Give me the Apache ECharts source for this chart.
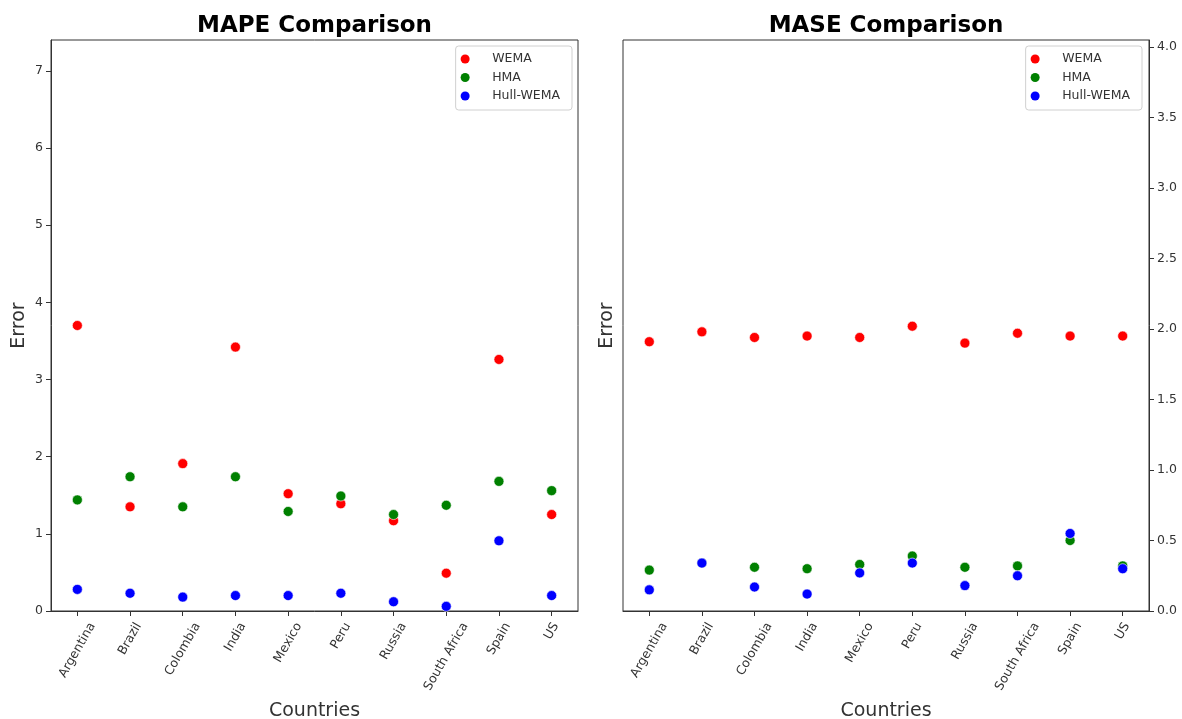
<!DOCTYPE html>
<html>
<head>
<meta charset="utf-8">
<title>MAPE / MASE Comparison</title>
<script src="https://cdn.jsdelivr.net/npm/echarts@6/dist/echarts.min.js"></script>
<style>
  html, body { margin: 0; padding: 0; background: #fff; }
  #chart { width: 1182px; height: 719px; }
</style>
</head>
<body>
<div id="chart"></div>
<script>
// Countries on the x axis of both panels
const countries = ['Argentina', 'Brazil', 'Colombia', 'India', 'Mexico', 'Peru', 'Russia', 'South Africa', 'Spain', 'US'];

// MAPE per method
const mapeWema = [3.70, 1.35, 1.91, 3.42, 1.52, 1.39, 1.17, 0.49, 3.26, 1.25];
const mapeHma = [1.44, 1.74, 1.35, 1.74, 1.29, 1.49, 1.25, 1.37, 1.68, 1.56];
const mapeHullWema = [0.28, 0.23, 0.18, 0.20, 0.20, 0.23, 0.12, 0.06, 0.91, 0.20];

// MASE per method
const maseWema = [1.91, 1.98, 1.94, 1.95, 1.94, 2.02, 1.90, 1.97, 1.95, 1.95];
const maseHma = [0.29, 0.34, 0.31, 0.30, 0.33, 0.39, 0.31, 0.32, 0.50, 0.32];
const maseHullWema = [0.15, 0.34, 0.17, 0.12, 0.27, 0.34, 0.18, 0.25, 0.55, 0.30];

// Tick values
const mapeTicks = [0, 1, 2, 3, 4, 5, 6, 7];
const maseTicks = [0, 0.5, 1.0, 1.5, 2.0, 2.5, 3.0, 3.5, 4.0];

const FONT = '"DejaVu Sans", "Noto Sans", sans-serif';
const TICK_SIZE = 12.5;
const INK = '#333';
const COLORS = { WEMA: '#ff0000', HMA: '#008000', 'Hull-WEMA': '#0000ff' };

const grids = [
  { left: 51, right: 604, top: 40, bottom: 108 },
  { left: 623, right: 33, top: 40, bottom: 108 }
];

function xAxisFor(gridIndex) {
  return {
    type: 'category',
    gridIndex: gridIndex,
    data: countries,
    boundaryGap: true,
    name: 'Countries',
    nameLocation: 'middle',
    nameGap: 91,
    nameMoveOverlap: false,
    nameTextStyle: { fontFamily: FONT, fontSize: 19, color: INK },
    axisLine: { show: true, lineStyle: { color: INK, width: 1 } },
    axisTick: { show: true, alignWithLabel: true, interval: 0, length: 5, lineStyle: { color: INK } },
    // the slanted country names are drawn below as centred, rotated text
    axisLabel: { show: false, interval: 0 },
    splitLine: { show: false }
  };
}

function scatter(name, data, xi, yi) {
  return {
    type: 'scatter', name: name, data: data,
    xAxisIndex: xi, yAxisIndex: yi,
    symbol: 'circle', symbolSize: 10,
    itemStyle: { color: COLORS[name], borderColor: '#ffffff', borderWidth: 0.6, opacity: 1 },
    emphasis: { disabled: true }
  };
}

function legendFor(right) {
  return {
    orient: 'vertical', right: right, top: 46,
    data: ['WEMA', 'HMA', 'Hull-WEMA'],
    icon: 'circle', itemWidth: 18, itemHeight: 9, itemGap: 4.5,
    padding: [6, 12, 7, 5],
    borderColor: '#d0d0d0', borderWidth: 1, borderRadius: 3,
    backgroundColor: 'rgba(255,255,255,0.8)',
    itemStyle: { borderWidth: 0 },
    textStyle: { fontFamily: FONT, fontSize: TICK_SIZE, color: INK, lineHeight: 14, padding: [0, 0, 0, 13] },
    selectedMode: false
  };
}

const chart = echarts.init(document.getElementById('chart'), null, { renderer: 'canvas' });

chart.setOption({
  animation: false,
  backgroundColor: '#ffffff',
  title: [
    { text: 'MAPE Comparison', left: 314.5, top: 15, textAlign: 'center', padding: 0,
      textStyle: { fontFamily: FONT, fontSize: 23, fontWeight: 'bold', color: '#000' } },
    { text: 'MASE Comparison', left: 886, top: 15, textAlign: 'center', padding: 0,
      textStyle: { fontFamily: FONT, fontSize: 23, fontWeight: 'bold', color: '#000' } }
  ],
  grid: grids.map(function (g) {
    return Object.assign({ show: true, borderColor: INK, borderWidth: 1, backgroundColor: '#fff',
      containLabel: false, outerBoundsMode: 'none' }, g);
  }),
  legend: [legendFor(610), legendFor(40)],
  xAxis: [xAxisFor(0), xAxisFor(1)],
  yAxis: [
    {
      type: 'value', gridIndex: 0, position: 'left',
      min: 0, max: 7.4, interval: 1,
      name: 'Error', nameLocation: 'middle', nameRotate: 90, nameGap: 32, nameMoveOverlap: false,
      nameTextStyle: { fontFamily: FONT, fontSize: 19, color: INK, verticalAlign: 'middle' },
      axisLine: { show: true, lineStyle: { color: INK } },
      axisTick: { show: true, length: 5, lineStyle: { color: INK }, customValues: mapeTicks },
      axisLabel: { margin: 8, fontFamily: FONT, fontSize: TICK_SIZE, color: INK, customValues: mapeTicks },
      splitLine: { show: false }
    },
    {
      type: 'value', gridIndex: 1, position: 'right',
      min: 0, max: 4.05, interval: 0.5,
      axisLine: { show: true, lineStyle: { color: INK } },
      axisTick: { show: true, length: 5, lineStyle: { color: INK }, customValues: maseTicks },
      axisLabel: { margin: 8, fontFamily: FONT, fontSize: TICK_SIZE, color: INK, customValues: maseTicks,
        formatter: function (v) { return v.toFixed(1); } },
      splitLine: { show: false }
    },
    {
      // left-hand title axis of the MASE panel (its tick labels sit on the right)
      type: 'value', gridIndex: 1, position: 'left',
      min: 0, max: 4.05,
      name: 'Error', nameLocation: 'middle', nameRotate: 90, nameGap: 16, nameMoveOverlap: false,
      nameTextStyle: { fontFamily: FONT, fontSize: 19, color: INK, verticalAlign: 'middle' },
      axisLine: { show: false }, axisTick: { show: false }, axisLabel: { show: false },
      splitLine: { show: false }
    }
  ],
  series: [
    scatter('WEMA', mapeWema, 0, 0),
    scatter('HMA', mapeHma, 0, 0),
    scatter('Hull-WEMA', mapeHullWema, 0, 0),
    scatter('WEMA', maseWema, 1, 1),
    scatter('HMA', maseHma, 1, 1),
    scatter('Hull-WEMA', maseHullWema, 1, 1)
  ]
});

// Country names slanted at 60 degrees, each centred under its tick with the
// top of its rotated box just below the tick marks.
(function drawCountryLabels() {
  const ctx = document.createElement('canvas').getContext('2d');
  ctx.font = TICK_SIZE + 'px ' + FONT;
  const lineH = 15;
  const gap = 9;
  const angle = Math.PI / 3;
  const items = [];
  [0, 1].forEach(function (gi) {
    const yAxisIndex = gi === 0 ? 0 : 1;
    const baseY = chart.convertToPixel({ yAxisIndex: yAxisIndex }, 0);
    countries.forEach(function (name, i) {
      const x = chart.convertToPixel({ xAxisIndex: gi }, i);
      const w = ctx.measureText(name).width;
      const halfBoxH = (w * Math.sin(angle) + lineH * Math.cos(angle)) / 2;
      items.push({
        type: 'text', silent: true,
        x: x, y: baseY + gap + halfBoxH,
        rotation: angle,
        style: {
          text: name, fontFamily: FONT, fontSize: TICK_SIZE, fill: INK,
          align: 'center', verticalAlign: 'middle'
        }
      });
    });
  });
  chart.setOption({ graphic: items });
})();
</script>
</body>
</html>
